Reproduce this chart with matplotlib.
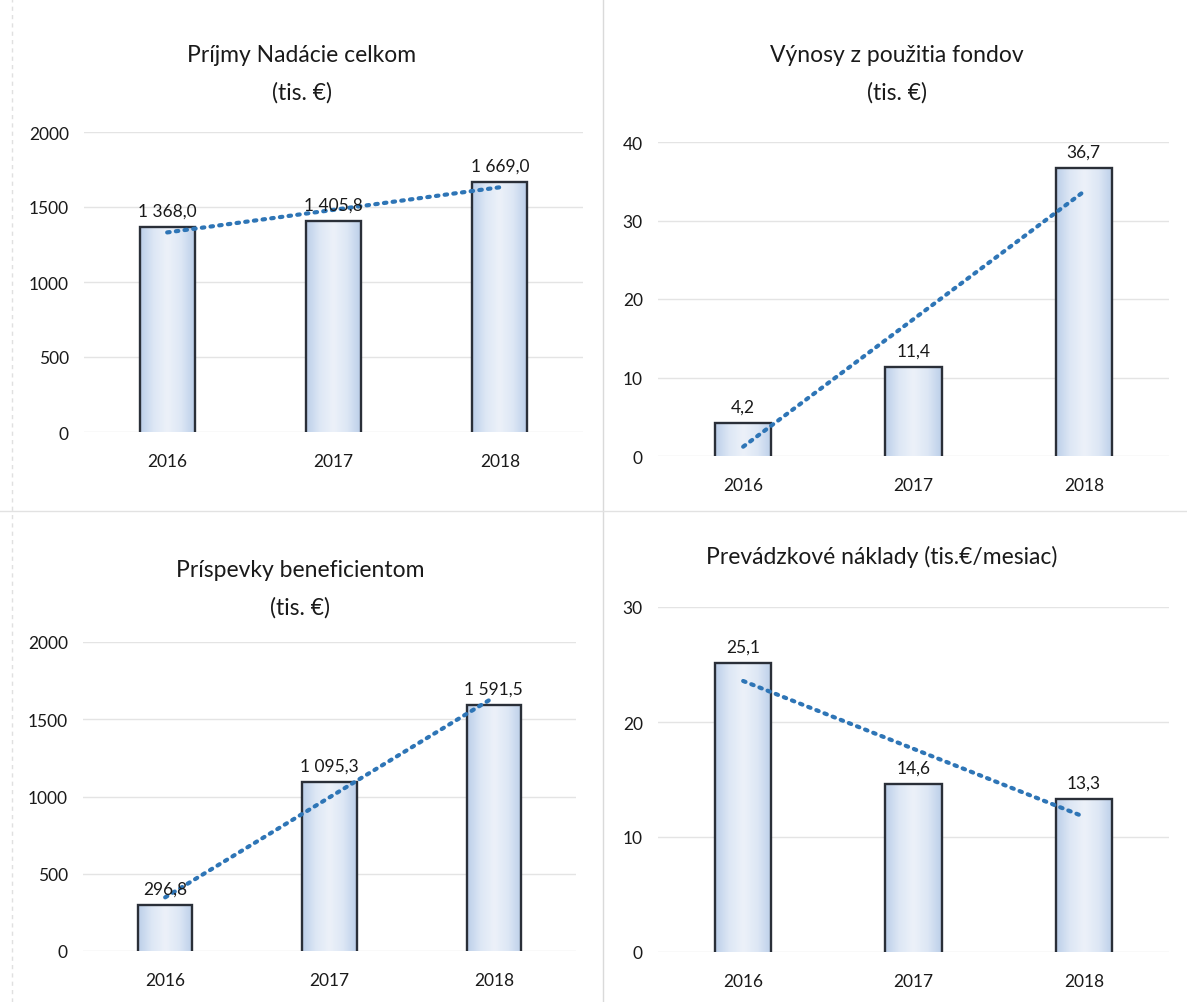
import numpy as np
import matplotlib
matplotlib.use("Agg")
import matplotlib.pyplot as plt

plt.rcParams['font.family'] = ['Lato', 'DejaVu Sans']

years = ['2016', '2017', '2018']

prijmy = [1368.0, 1405.8, 1669.0]
vynosy = [4.2, 11.4, 36.7]
prispevky = [296.8, 1095.3, 1591.5]
naklady = [25.1, 14.6, 13.3]

titles = [
    'Príjmy Nadácie celkom\n(tis. €)',
    'Výnosy z použitia fondov\n(tis. €)',
    'Príspevky beneficientom\n(tis. €)',
    'Prevádzkové náklady (tis.€/mesiac)',
]
y_ticks = [
    [0, 500, 1000, 1500, 2000],
    [0, 10, 20, 30, 40],
    [0, 500, 1000, 1500, 2000],
    [0, 10, 20, 30],
]

W, H = 1187, 1003
fig = plt.figure(figsize=(W / 100, H / 100), dpi=100)
fig.patch.set_facecolor('white')

# plot-area boxes in pixels: left, right, bottom, top
boxes = [
    (84, 583, 433, 133),
    (658, 1169, 457, 143),
    (83, 576, 952, 643),
    (658, 1169, 953, 608),
]
# title block centre in pixels
title_pos = [(302, 74), (897, 74), (300, 589), (882, 557)]

bar_w = 0.33
edge_dark = '#2a2f38'
trend_col = '#2e75b6'

# horizontal gradient for the bar fill
grad = np.linspace(0, 1, 64)
grad = 1 - np.abs(grad - 0.5) * 2
cmap = matplotlib.colors.LinearSegmentedColormap.from_list(
    'barfill', ['#bccfe9', '#dde7f5', '#ecf1f9'])


def fmt(v):
    return f'{v:,.1f}'.replace(',', ' ').replace('.', ',')


series = [prijmy, vynosy, prispevky, naklady]
for vals, title, ticks, box, tpos in zip(series, titles, y_ticks, boxes, title_pos):
    left, right, bottom, top = box
    ax = fig.add_axes([left / W, 1 - bottom / H, (right - left) / W, (bottom - top) / H])
    x = np.arange(len(vals))
    ymax = ticks[-1]

    ax.set_xlim(-0.5, len(vals) - 0.5)
    ax.set_ylim(0, ymax)
    for t in ticks:
        ax.axhline(t, color='#e4e4e4', lw=1, zorder=0)

    bars = ax.bar(x, vals, width=bar_w, color='none', edgecolor='none', zorder=2)
    for b, v in zip(bars, vals):
        bx = b.get_x()
        im = ax.imshow(grad[np.newaxis, :], cmap=cmap, aspect='auto',
                       extent=[bx, bx + bar_w, 0, v], zorder=2, interpolation='bicubic')
        im.set_clip_path(b)
        ax.plot([bx, bx, bx + bar_w, bx + bar_w], [0, v, v, 0],
                color=edge_dark, lw=1.7, zorder=3, solid_joinstyle='miter')
        ax.annotate(fmt(v), (b.get_x() + bar_w / 2, v), xytext=(0, 6),
                    textcoords='offset points', ha='center', va='bottom',
                    fontsize=12.5, color='#1a1a1a', zorder=5)

    # linear trend across the three years
    k, q = np.polyfit(x, vals, 1)
    ax.plot(x, k * x + q, color=trend_col, lw=3, linestyle=(0, (0.6, 1.5)),
            dash_capstyle='round', zorder=4)

    ax.set_xlim(-0.5, len(vals) - 0.5)
    ax.set_ylim(0, ymax)
    ax.set_xticks(x)
    ax.set_xticklabels(years)
    ax.set_yticks(ticks)
    ax.tick_params(length=0, labelsize=12.5, colors='#1a1a1a')
    ax.tick_params(axis='x', pad=15)
    ax.tick_params(axis='y', pad=11)
    for s in ax.spines.values():
        s.set_visible(False)

    fig.text(tpos[0] / W, 1 - tpos[1] / H, title, ha='center', va='center',
             fontsize=16.5, color='#1a1a1a', linespacing=1.9)

# panel separators
fig.add_artist(plt.Line2D([603 / W, 603 / W], [0, 1], color='#dadada', lw=1))
fig.add_artist(plt.Line2D([0, 1], [1 - 512 / H, 1 - 512 / H], color='#e2e2e2', lw=1))
fig.add_artist(plt.Line2D([12 / W, 12 / W], [0, 1], color='#e0e0e0', lw=1, linestyle=(0, (3, 3))))

fig.savefig('out.png', dpi=100, facecolor='white')
